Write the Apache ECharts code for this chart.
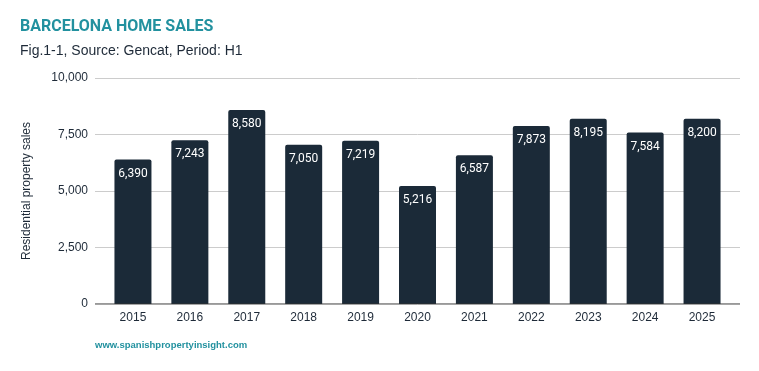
<!DOCTYPE html>
<html><head><meta charset="utf-8">
<script src="https://cdn.jsdelivr.net/npm/echarts@6/dist/echarts.min.js"></script>
<style>html,body{margin:0;padding:0;background:#fff}#c{width:759px;height:371px}</style>
</head><body><div id="c"></div>
<script>
const categories = ['2015','2016','2017','2018','2019','2020','2021','2022','2023','2024','2025'];
const sales = [6390,7243,8580,7050,7219,5216,6587,7873,8195,7584,8200];
const yTicks = [0,2500,5000,7500,10000];

const chart = echarts.init(document.getElementById('c'));
const fmt = v => v.toLocaleString('en-US');
const axisFont = 'Liberation Sans, Arial, sans-serif';
chart.setOption({
  animation:false,
  textStyle:{fontFamily:'Roboto'},
  title:[
    {text:'BARCELONA HOME SALES',left:20,top:19,padding:0,textStyle:{fontFamily:'Roboto',fontSize:16,fontWeight:'bold',color:'#22919f'}},
    {text:'Fig.1-1, Source: Gencat, Period: H1',left:20,top:44,padding:0,textStyle:{fontFamily:axisFont,fontSize:14,fontWeight:'normal',color:'#1e2a38'}},
    {text:'www.spanishpropertyinsight.com',left:95,top:340,padding:0,textStyle:{fontFamily:axisFont,fontSize:9.5,fontWeight:'bold',color:'#22919f'}}
  ],
  grid:[
    {left:95,right:19,top:78,height:226,containLabel:false},
    {left:104.5,right:28.5,top:78,height:226,containLabel:false}
  ],
  xAxis:[
    {gridIndex:0,type:'value',min:0,max:1,show:false},
    {gridIndex:1,type:'category',data:categories,
     axisLine:{show:false},axisTick:{show:false},
     axisLabel:{color:'#1e2a38',fontSize:12,margin:8,fontFamily:axisFont}}
  ],
  yAxis:[
    {gridIndex:0,type:'value',min:yTicks[0],max:yTicks[yTicks.length-1],interval:2500,
     name:'Residential property sales',nameLocation:'middle',nameGap:62,
     nameTextStyle:{color:'#1e2a38',fontSize:12,fontFamily:axisFont},
     axisLabel:{color:'#1e2a38',fontSize:12,formatter:fmt,margin:7,fontFamily:axisFont},
     axisLine:{show:false},axisTick:{show:false},
     splitLine:{lineStyle:{color:'#cccccc'}}},
    {gridIndex:1,type:'value',min:0,max:10000,show:false,splitLine:{show:false}}
  ],
  series:[
    {type:'line',xAxisIndex:0,yAxisIndex:0,data:[[0,0],[1,0]],symbol:'none',
     lineStyle:{color:'#333',width:1},z:5,silent:true},
    {type:'bar',xAxisIndex:1,yAxisIndex:1,data:sales,barWidth:37,
     itemStyle:{color:'#1b2a38',borderRadius:[2,2,0,0]},
     label:{show:true,position:'insideTop',distance:8,color:'#ffffff',fontSize:12,formatter:p=>fmt(p.value)}}
  ]
});
</script></body></html>
